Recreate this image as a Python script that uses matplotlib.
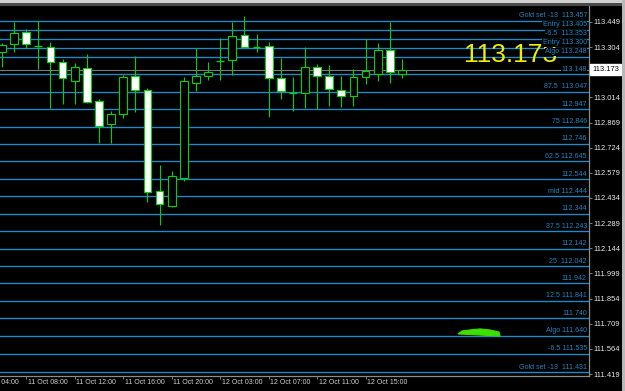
import matplotlib
matplotlib.use("Agg")
import matplotlib.pyplot as plt
from matplotlib.patches import Rectangle, Polygon

plt.rcParams['font.family'] = ['Liberation Sans', 'DejaVu Sans']

# ---- data (H1 candles) ----
opens  = [113.276, 113.322, 113.391, 113.311, 113.305, 113.218, 113.109, 113.184, 112.993, 112.861,
          112.918, 113.138, 113.057, 112.474, 112.388, 112.549, 113.097, 113.138, 113.224, 113.230,
          113.374, 113.305, 113.311, 113.126, 113.040, 113.040, 113.190, 113.138, 113.057, 113.022,
          113.132, 113.149, 113.288, 113.149]
highs  = [113.328, 113.449, 113.409, 113.455, 113.334, 113.236, 113.213, 113.265, 113.005, 112.936,
          113.143, 113.253, 113.068, 112.624, 112.590, 113.132, 113.299, 113.218, 113.357, 113.449,
          113.484, 113.380, 113.334, 113.241, 113.132, 113.305, 113.207, 113.201, 113.138, 113.178,
          113.351, 113.328, 113.449, 113.236]
lows   = [113.190, 113.276, 113.299, 113.178, 112.953, 112.976, 112.976, 112.982, 112.751, 112.751,
          112.895, 112.930, 112.411, 112.278, 112.382, 112.532, 113.051, 113.115, 113.115, 113.143,
          113.305, 113.276, 112.901, 113.005, 112.936, 112.953, 112.947, 112.965, 112.959, 112.965,
          113.092, 113.109, 113.097, 113.126]
closes = [113.316, 113.386, 113.322, 113.310, 113.218, 113.126, 113.190, 112.988, 112.849, 112.918,
          113.132, 113.057, 112.469, 112.399, 112.561, 113.109, 113.138, 113.161, 113.224, 113.368,
          113.305, 113.305, 113.126, 113.051, 113.040, 113.190, 113.138, 113.063, 113.022, 113.132,
          113.166, 113.288, 113.161, 113.173]

level_prices = [113.457, 113.405, 113.353, 113.300, 113.248, 113.148, 113.047, 112.947, 112.846,
                112.746, 112.645, 112.544, 112.444, 112.344, 112.243, 112.142, 112.042, 111.942,
                111.841, 111.740, 111.640, 111.535, 111.431]
level_labels = ["Gold set -13  113.457", "Entry 113.405", "-6.5  113.353", "Entry 113.300",
                "Algo 113.248", "113.148", "87.5  113.047", "112.947", "75 112.846", "112.746",
                "62.5 112.645", "112.544", "mid 112.444", "112.344", "37.5 112.243", "112.142",
                "25  112.042", "111.942", "12.5 111.841", "111.740", "Algo 111.640",
                "-6.5 111.535", "Gold set -13  111.431"]

price_ticks = [113.449, 113.304, 113.014, 112.869, 112.724, 112.579, 112.434, 112.289,
               112.144, 111.999, 111.854, 111.709, 111.564, 111.419]
time_ticks  = [-2, 2, 6, 10, 14, 18, 22, 26, 30]
time_labels = ["11 Oct 04:00", "11 Oct 08:00", "11 Oct 12:00", "11 Oct 16:00", "11 Oct 20:00",
               "12 Oct 03:00", "12 Oct 07:00", "12 Oct 11:00", "12 Oct 15:00"]

last_price = 113.173
big_label  = "113.173"

# hand-drawn green scribble near the lower Algo line (bar index, price)
scribble_x = [37.62, 37.95, 38.61, 39.44, 40.26, 41.01, 41.09]
scribble_y = [111.650, 111.667, 111.673, 111.679, 111.673, 111.661, 111.638]

# ---- style ----
LEVEL_LINE = "#1a8ccb"
LEVEL_TEXT = "#1b86c2"
CANDLE     = "#00d400"
AXIS_GRAY  = "#8c8c8c"
W, H = 625, 391

fig = plt.figure(figsize=(W / 100, H / 100), dpi=100, facecolor="black")
ax = fig.add_axes([0, 1 - 376 / H, 589 / W, (376 - 6) / H])
ax.set_facecolor("black")
ax.set_xlim(-0.165, 48.43)
ax.set_ylim(111.4075, 113.541)

# level lines + labels
for p, lbl in zip(level_prices, level_labels):
    ax.axhline(p, color=LEVEL_LINE, lw=0.95, zorder=2)
    ax.annotate(lbl, xy=(0.9965, p), xycoords=("axes fraction", "data"),
                xytext=(0, 1.0), textcoords="offset points", ha="right", va="bottom",
                fontsize=5.1, color=LEVEL_TEXT, zorder=6,
                bbox=dict(boxstyle="square,pad=0.05", fc="black", ec="none"))

# bid line
ax.axhline(last_price, color="#7a7a7a", lw=0.8, zorder=1.5)

# big yellow price text
ax.text(464 / 589, 113.2587, big_label, transform=ax.get_yaxis_transform(which="grid"),
        ha="left", va="center", fontsize=19, color="#eeee00", zorder=4)

# candles
body_w = 0.64
for i, (o, h, l, c) in enumerate(zip(opens, highs, lows, closes)):
    ax.vlines(i, l, h, color=CANDLE, lw=0.8, zorder=3)
    if abs(c - o) < 0.002:
        ax.hlines(o, i - body_w / 2, i + body_w / 2, color=CANDLE, lw=1.0, zorder=3.2)
        continue
    face = "black" if c > o else "white"
    ax.add_patch(Rectangle((i - body_w / 2, min(o, c)), body_w, abs(c - o),
                           fc=face, ec=CANDLE, lw=0.8, zorder=3.1))

ax.add_patch(Polygon(list(zip(scribble_x, scribble_y)), closed=True,
                     fc="#3be000", ec="#3be000", lw=0.8, zorder=5))

# axes / spines
for s in ["top", "left"]:
    ax.spines[s].set_visible(False)
for s in ["right", "bottom"]:
    ax.spines[s].set_color(AXIS_GRAY)
    ax.spines[s].set_linewidth(0.9)

ax.yaxis.tick_right()
ax.set_yticks(price_ticks)
ax.set_yticklabels([f"{v:.3f}" for v in price_ticks])
ax.tick_params(axis="y", colors=AXIS_GRAY, labelcolor="#e8e8e8", labelsize=5.4,
               length=2.2, width=0.6, pad=1.2, direction="out")

ax.set_xticks([t for t in time_ticks if t >= 0])
ax.set_xticklabels([])
ax.tick_params(axis="x", colors=AXIS_GRAY, length=2.2, width=0.6, direction="out")
for t, lbl in zip(time_ticks, time_labels):
    ax.annotate(lbl, xy=(t, 0), xycoords=("data", "axes fraction"),
                xytext=(1.2, -2.0), textcoords="offset points", ha="left", va="top",
                fontsize=5.0, color="#d0d0d0", annotation_clip=False)

# current price box on the price scale
ax.annotate(f"{last_price:.3f}", xy=(1.0, last_price), xycoords=("axes fraction", "data"),
            xytext=(2.2, 0), textcoords="offset points", ha="left", va="center",
            fontsize=5.4, color="black", zorder=10, annotation_clip=False,
            bbox=dict(boxstyle="square,pad=0.25", fc="white", ec="white"))

# window chrome: top strip and right border
fig.add_artist(Rectangle((0, 1 - 3 / H), 1, 3 / H, transform=fig.transFigure,
                         fc="#d0d0d0", ec="none"))
fig.add_artist(Rectangle((0, 1 - 6 / H), 1, 3 / H, transform=fig.transFigure,
                         fc="#4a4a4a", ec="none"))
fig.add_artist(Rectangle((622 / W, 0), 3 / W, 1, transform=fig.transFigure,
                         fc="#b8b8b8", ec="none"))

fig.savefig("out.png", dpi=100, facecolor="black")
